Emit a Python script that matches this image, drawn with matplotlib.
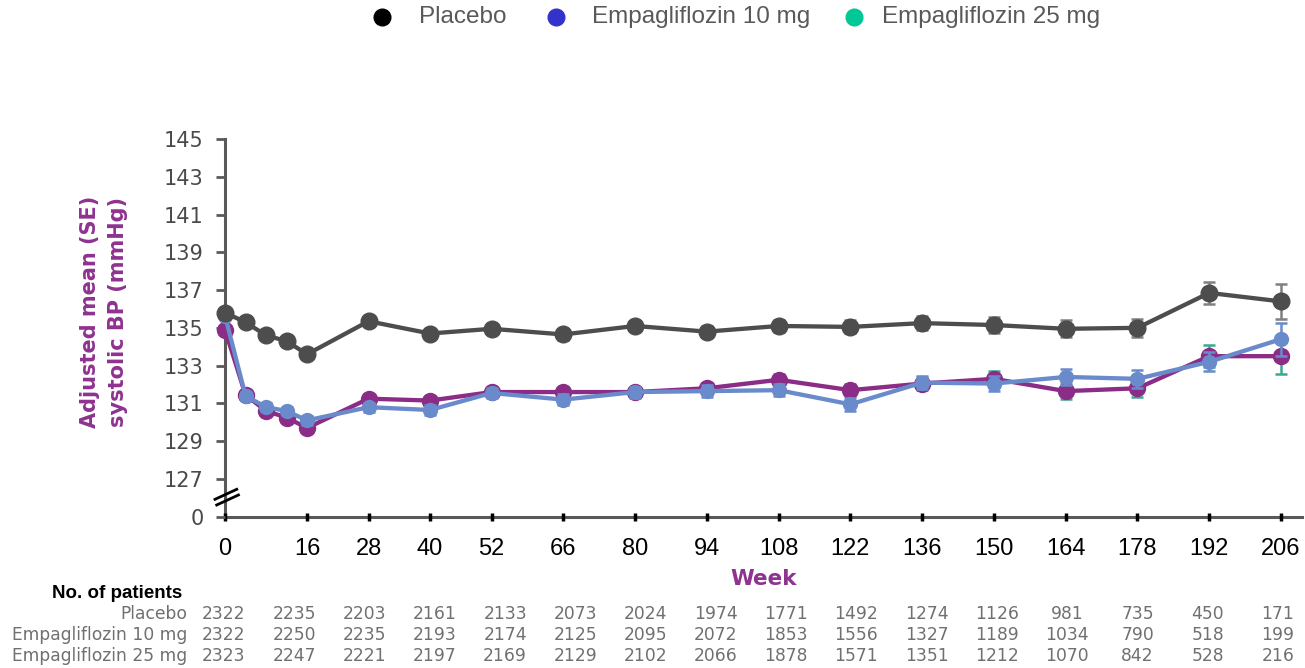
import matplotlib
matplotlib.use("Agg")
import matplotlib.pyplot as plt
from matplotlib.lines import Line2D
import numpy as np

# ---- data -------------------------------------------------------------
weeks = [0, 4, 8, 12, 16, 28, 40, 52, 66, 80, 94, 108, 122, 136, 150, 164, 178, 192, 206]
tick_weeks = [0, 16, 28, 40, 52, 66, 80, 94, 108, 122, 136, 150, 164, 178, 192, 206]

placebo = [135.8, 135.3, 134.6, 134.3, 133.6, 135.35, 134.7, 134.95, 134.65, 135.1,
           134.8, 135.1, 135.05, 135.25, 135.15, 134.95, 135.0, 136.85, 136.4]
placebo_se = [0.2, 0.2, 0.2, 0.22, 0.22, 0.24, 0.25, 0.26, 0.27, 0.28,
              0.29, 0.3, 0.34, 0.37, 0.42, 0.44, 0.49, 0.59, 0.93]

empa10 = [135.65, 131.4, 130.8, 130.6, 130.1, 130.8, 130.65, 131.55, 131.2, 131.6,
          131.65, 131.7, 130.95, 132.1, 132.05, 132.4, 132.3, 133.2, 134.4]
empa10_se = [0.2, 0.2, 0.22, 0.22, 0.23, 0.23, 0.25, 0.26, 0.28, 0.29,
             0.31, 0.32, 0.34, 0.35, 0.4, 0.42, 0.46, 0.5, 0.88]

empa25 = [134.9, 131.45, 130.6, 130.25, 129.7, 131.25, 131.15, 131.6, 131.6, 131.6,
          131.8, 132.25, 131.7, 132.05, 132.3, 131.65, 131.8, 133.5, 133.5]
empa25_se = [0.2, 0.2, 0.21, 0.22, 0.22, 0.23, 0.25, 0.26, 0.27, 0.28,
             0.3, 0.31, 0.33, 0.35, 0.4, 0.42, 0.47, 0.58, 0.92]

ytick_values = [125, 127, 129, 131, 133, 135, 137, 139, 141, 143, 145]
ytick_labels = ["0", "127", "129", "131", "133", "135", "137", "139", "141", "143", "145"]

groups = ["Placebo", "Empagliflozin 10 mg", "Empagliflozin 25 mg"]
n_placebo = [2322, 2235, 2203, 2161, 2133, 2073, 2024, 1974, 1771, 1492, 1274, 1126, 981, 735, 450, 171]
n_empa10 = [2322, 2250, 2235, 2193, 2174, 2125, 2095, 2072, 1853, 1556, 1327, 1189, 1034, 790, 518, 199]
n_empa25 = [2323, 2247, 2221, 2197, 2169, 2129, 2102, 2066, 1878, 1571, 1351, 1212, 1070, 842, 528, 216]

# ---- style ------------------------------------------------------------
W, H = 1305, 668
AXIS_GREY = "#595959"
PLACEBO_C = "#4d4d4d"
PURPLE = "#8b2c86"
BLUE = "#6a8bcb"
TEAL = "#3aaa8f"
LABEL_PURPLE = "#8e3390"

fig = plt.figure(figsize=(W / 100, H / 100), dpi=100)
ax = fig.add_axes([225 / W, 1 - 516.7 / H, (1302 - 225) / W, (516.7 - 139) / H])

ax.set_xlim(0, 210.1)
ax.set_ylim(125, 145)


def draw_series(y, se, line_c, err_c, ms, z):
    cont = ax.errorbar(weeks, y, yerr=se, color=line_c, ecolor=err_c, lw=3.1,
                       marker="o", ms=ms, mec=line_c, mfc=line_c,
                       capsize=4, capthick=1.8, elinewidth=1.8, zorder=z)
    for art in cont.get_children():
        art.set_clip_on(False)


draw_series(empa25, empa25_se, PURPLE, TEAL, 11.5, 3)
draw_series(empa10, empa10_se, BLUE, BLUE, 10, 4)
draw_series(placebo, placebo_se, PLACEBO_C, "#808080", 12, 5)

# axes styling
for side in ("top", "right"):
    ax.spines[side].set_visible(False)
for side in ("left", "bottom"):
    ax.spines[side].set_color(AXIS_GREY)
    ax.spines[side].set_linewidth(2.2)
    ax.spines[side].set_zorder(1)

ax.set_yticks(ytick_values)
ax.set_yticklabels(ytick_labels, fontfamily="DejaVu Sans", fontsize=15, color="#4a4a4a")
ax.tick_params(axis="y", direction="out", length=6.5, width=2, color=AXIS_GREY, pad=9)

ax.set_xticks(tick_weeks)
ax.set_xticklabels([str(w) for w in tick_weeks], fontfamily="Liberation Sans",
                   fontsize=17, color="black")
ax.tick_params(axis="x", direction="inout", length=6, width=2.5, color="black", pad=12)

# axis break marks on the y axis
for (x0, y0, x1, y1) in [(-0.0093, 0.046, 0.0109, 0.0725), (-0.0077, 0.031, 0.0125, 0.0575)]:
    ax.plot([x0, x1], [y0, y1], transform=ax.transAxes, color="black", lw=2,
            clip_on=False, zorder=6)

# axis titles
fig.text(104 / W, 1 - 312 / H, "Adjusted mean (SE)\nsystolic BP (mmHg)", rotation=90,
         ha="center", va="center", multialignment="center", linespacing=1.5,
         fontfamily="DejaVu Sans", fontweight="bold", fontsize=15, color=LABEL_PURPLE)
fig.text(764 / W, 1 - 579 / H, "Week", ha="center", va="center",
         fontfamily="DejaVu Sans", fontweight="bold", fontsize=15.5, color=LABEL_PURPLE)

# legend row
legend_colors = ["#000000", "#3333cc", "#00c896"]
legend_marker_x = [382, 556, 854]
legend_text_x = [419, 592, 882]
for name, c, mx, tx in zip(groups, legend_colors, legend_marker_x, legend_text_x):
    fig.add_artist(Line2D([mx / W], [1 - 17 / H], transform=fig.transFigure,
                          marker="o", ms=12, color=c, lw=0))
    fig.text(tx / W, 1 - 17 / H, name, ha="left", va="center",
             fontfamily="Liberation Sans", fontsize=17.5, color=AXIS_GREY)

# patients-at-risk table
fig.text(52 / W, 1 - 594 / H, "No. of patients", ha="left", va="center",
         fontfamily="Liberation Sans", fontweight="bold", fontsize=13.5, color="black")
row_y = [614, 635, 656]
col_x = 224 + np.arange(len(n_placebo)) * 70.27
for name, counts, ry in zip(groups, [n_placebo, n_empa10, n_empa25], row_y):
    fig.text(187 / W, 1 - ry / H, name, ha="right", va="center",
             fontfamily="DejaVu Sans", fontsize=12.3, color="#707070")
    for cx, n in zip(col_x, counts):
        fig.text(cx / W, 1 - ry / H, str(n), ha="center", va="center",
                 fontfamily="DejaVu Sans", fontsize=12.3, color="#707070")

fig.savefig("out.png", dpi=100)
